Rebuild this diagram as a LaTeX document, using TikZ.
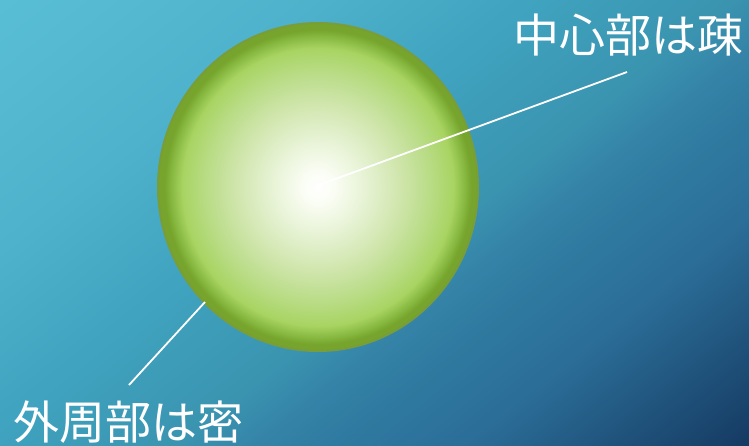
\documentclass[tikz,border=0pt]{standalone}
\usepackage{fontspec}
\usepackage{xcolor}
\usepackage{tikz}
\usetikzlibrary{arrows.meta,positioning,calc}
\newfontfamily\jpfont{Noto Sans CJK JP}

% backdrop, light to dark
\definecolor{bgA}{HTML}{58BED5}
\definecolor{bgB}{HTML}{4FB2CC}
\definecolor{bgC}{HTML}{40A4C0}
\definecolor{bgD}{HTML}{3A94B0}
\definecolor{bgE}{HTML}{3584A8}
\definecolor{bgF}{HTML}{2F7AA0}
\definecolor{bgG}{HTML}{2B6E98}
\definecolor{bgH}{HTML}{163C64}
% ball, centre to rim
\definecolor{gcore}{HTML}{FFFFFF}
\definecolor{ghalo}{HTML}{FAFDF4}
\definecolor{gpale}{HTML}{E4F1D0}
\definecolor{gsoft}{HTML}{CFE5AB}
\definecolor{glight}{HTML}{B9DC86}
\definecolor{gbright}{HTML}{A8D462}
\definecolor{gmid}{HTML}{86B73F}
\definecolor{gdeep}{HTML}{76A42C}
\definecolor{grim}{HTML}{789D3A}

\pgfdeclareverticalshading{backdrop}{100bp}{%
  color(0bp)=(bgH); color(25.5bp)=(bgH); color(36bp)=(bgG); color(41bp)=(bgF);
  color(44bp)=(bgE); color(47bp)=(bgD); color(55bp)=(bgC); color(63bp)=(bgB);
  color(75bp)=(bgA); color(100bp)=(bgA)}

\pgfdeclareradialshading{cellball}{\pgfpoint{0bp}{0bp}}{%
  color(0bp)=(gcore); color(2.5bp)=(ghalo); color(8bp)=(gpale);
  color(13bp)=(gsoft); color(17.5bp)=(glight); color(21.2bp)=(gbright);
  color(23bp)=(gmid); color(24bp)=(gdeep); color(25bp)=(gdeep);
  color(50bp)=(gdeep)}

\tikzset{
  label/.style={text=white,font=\jpfont\fontsize{46pt}{50pt}\selectfont,inner sep=0pt},
  leader/.style={draw=white,line width=1.8pt}
}

\begin{document}
\begin{tikzpicture}[x=1pt,y=-1pt,>=Latex]
  \useasboundingbox (0,0) rectangle (749,445);
  \begin{scope}
    \clip (0,0) rectangle (749,445);
    \shade[shading=backdrop,shading angle=38.7] (-35.5,-187.5) rectangle (784.5,632.5);
  \end{scope}
  % the ball
  \shade[shading=cellball,draw=grim,line width=2pt] (318,187) ellipse [x radius=160,y radius=164];
  \coordinate (core) at (319,185);
  \coordinate (rim) at (205,302);
  \node[label] (sparse) at (628,35) {中心部は疎};
  \node[label] (dense) at (128,422) {外周部は密};
  \coordinate (tipA) at (627,72);
  \coordinate (tipB) at (129,385);
  \draw[leader] (core) -- (tipA);
  \draw[leader] (rim) -- (tipB);
\end{tikzpicture}
\end{document}
